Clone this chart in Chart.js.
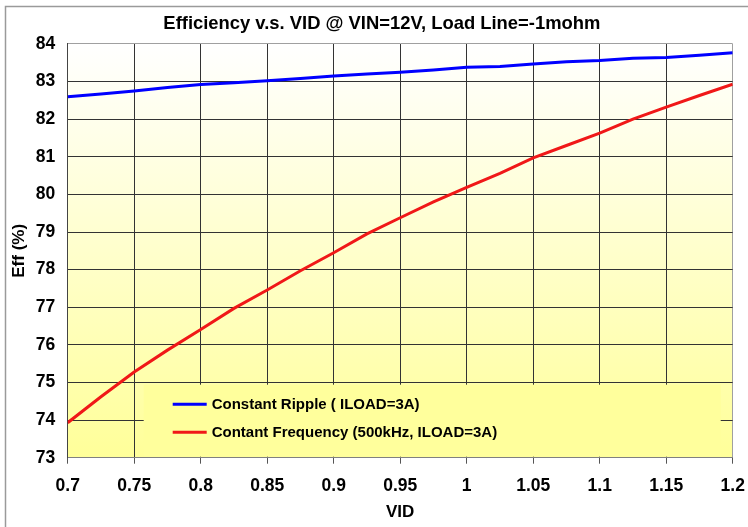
<!DOCTYPE html>
<html>
<head>
<meta charset="utf-8">
<script src="https://cdn.jsdelivr.net/npm/chart.js@4.4.0/dist/chart.umd.min.js"></script>
<style>
  html, body { margin: 0; padding: 0; background: #fff; }
  #wrap { position: relative; width: 748px; height: 527px; }
</style>
</head>
<body>
<div id="wrap"><canvas id="graficaEficiencia" width="748" height="527"></canvas></div>
<script>
// ========== DATOS ==========
const vid = [0.7, 0.725, 0.75, 0.775, 0.8, 0.825, 0.85, 0.875, 0.9, 0.925, 0.95,
             0.975, 1.0, 1.025, 1.05, 1.075, 1.1, 1.125, 1.15, 1.175, 1.2];
const effRipple = [82.60, 82.67, 82.75, 82.84, 82.92, 82.97, 83.02, 83.08, 83.15, 83.20, 83.25,
                   83.31, 83.38, 83.40, 83.47, 83.53, 83.56, 83.62, 83.64, 83.70, 83.77];
const effFrecuencia = [73.93, 74.62, 75.28, 75.86, 76.41, 76.97, 77.46, 77.97, 78.45, 78.95, 79.38,
                       79.80, 80.19, 80.56, 80.97, 81.30, 81.63, 82.00, 82.32, 82.63, 82.93];
const xTicks = [0.7, 0.75, 0.8, 0.85, 0.9, 0.95, 1.0, 1.05, 1.1, 1.15, 1.2];
const xTickLabels = ['0.7', '0.75', '0.8', '0.85', '0.9', '0.95', '1', '1.05', '1.1', '1.15', '1.2'];
const yMin = 73, yMax = 84;
const serieNombres = ['Constant Ripple ( ILOAD=3A)', 'Contant Frequency (500kHz, ILOAD=3A)'];

const fuente = '"Liberation Sans", Arial, sans-serif';

// ========== FONDO DEGRADADO Y MARCO ==========
const fondoPlugin = {
  id: 'fondo',
  beforeDraw(chart) {
    const { ctx, chartArea: a, width, height } = chart;
    ctx.save();
    ctx.fillStyle = '#ffffff';
    ctx.fillRect(0, 0, width, height);
    const grad = ctx.createLinearGradient(0, a.top, 0, a.bottom);
    grad.addColorStop(0, '#ffffff');
    grad.addColorStop(1, '#ffff99');
    ctx.fillStyle = grad;
    ctx.fillRect(a.left, a.top, a.right - a.left, a.bottom - a.top);
    // marco exterior
    ctx.strokeStyle = '#9a9a9a';
    ctx.lineWidth = 1.5;
    ctx.beginPath();
    ctx.moveTo(5.5, height);
    ctx.lineTo(5.5, 6.5);
    ctx.lineTo(width, 6.5);
    ctx.stroke();
    ctx.restore();
  }
};

// ========== LEYENDA DENTRO DEL ÁREA ==========
const leyendaPlugin = {
  id: 'leyendaInterna',
  beforeDatasetsDraw(chart) {
    const { ctx, chartArea: a } = chart;
    const x0 = a.left + 76, x1 = a.right - 12;
    const y0 = a.bottom - 73, y1 = a.bottom - 1;
    ctx.save();
    ctx.fillStyle = '#ffff9c';
    ctx.fillRect(x0, y0, x1 - x0, y1 - y0);
    ctx.font = 'bold 15px ' + fuente;
    ctx.textBaseline = 'middle';
    chart.data.datasets.forEach((ds, i) => {
      const y = y0 + 19.5 + i * 28;
      ctx.strokeStyle = ds.borderColor;
      ctx.lineWidth = 3;
      ctx.beginPath();
      ctx.moveTo(x0 + 29, y);
      ctx.lineTo(x0 + 63, y);
      ctx.stroke();
      ctx.fillStyle = '#000';
      ctx.fillText(ds.label, x0 + 68, y + 1);
    });
    ctx.restore();
  }
};

// ========== GRÁFICA ==========
const ctx = document.getElementById('graficaEficiencia');
new Chart(ctx, {
  type: 'line',
  data: {
    datasets: [
      {
        label: serieNombres[0],
        data: vid.map((v, i) => ({ x: v, y: effRipple[i] })),
        borderColor: '#0000ff',
        borderWidth: 3,
        pointRadius: 0,
        tension: 0
      },
      {
        label: serieNombres[1],
        data: vid.map((v, i) => ({ x: v, y: effFrecuencia[i] })),
        borderColor: '#f01818',
        borderWidth: 3,
        pointRadius: 0,
        tension: 0
      }
    ]
  },
  options: {
    responsive: false,
    animation: false,
    devicePixelRatio: 1,
    layout: { padding: { left: 31, right: 15.3, top: 0, bottom: 0 } },
    plugins: {
      legend: { display: false },
      tooltip: { enabled: false },
      title: {
        display: true,
        text: 'Efficiency v.s. VID @ VIN=12V, Load Line=-1mohm',
        color: '#000',
        font: { family: fuente, size: 18.4, weight: 'bold' },
        padding: { top: 12.8, bottom: 9.1 }
      }
    },
    scales: {
      x: {
        type: 'linear',
        min: xTicks[0],
        max: xTicks[xTicks.length - 1],
        afterBuildTicks: (scale) => { scale.ticks = xTicks.map(v => ({ value: v })); },
        afterFit: (scale) => {
          scale.height = 69.3;
          scale.paddingLeft = 0;
          scale.paddingRight = 0;
        },
        ticks: {
          callback: (v, i) => xTickLabels[i],
          color: '#000',
          font: { family: fuente, size: 17.5, weight: 'bold' },
          padding: 12,
          maxRotation: 0
        },
        grid: {
          color: (c) => (c.tick && c.tick.value === 1.2 ? '#a0a0a0' : '#333333'),
          tickColor: '#555555',
          tickLength: 6,
          lineWidth: 1
        },
        border: { color: '#808080', width: 1 },
        title: {
          display: true,
          text: 'VID',
          color: '#000',
          font: { family: fuente, size: 17, weight: 'bold' },
          padding: { top: 0, bottom: 4.5 }
        }
      },
      y: {
        min: yMin,
        max: yMax,
        afterFit: (scale) => { scale.width = 36.7; },
        ticks: {
          stepSize: 1,
          color: '#000',
          font: { family: fuente, size: 17.5, weight: 'bold' },
          padding: 12.5
        },
        grid: {
          color: (c) => (c.tick && c.tick.value === yMax ? '#a0a0a0' : '#333333'),
          drawTicks: false,
          lineWidth: 1
        },
        border: { color: '#444444', width: 1 },
        title: {
          display: true,
          text: 'Eff (%)',
          color: '#000',
          font: { family: fuente, size: 17, weight: 'bold' },
          padding: { top: -22.2, bottom: 0 }
        }
      }
    }
  },
  plugins: [fondoPlugin, leyendaPlugin]
});
</script>
</body>
</html>
